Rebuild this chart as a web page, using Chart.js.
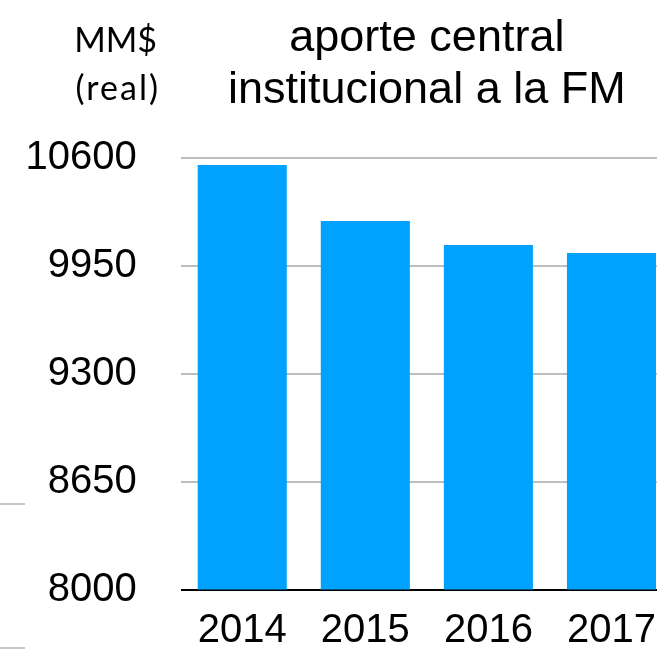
<!DOCTYPE html>
<html>
<head>
<meta charset="utf-8">
<script src="https://cdn.jsdelivr.net/npm/chart.js@4.4.1/dist/chart.umd.min.js"></script>
<style>
  html, body { margin: 0; padding: 0; background: #fff; overflow: hidden; width: 657px; height: 650px; }
  #wrap { position: absolute; left: 0; top: 0; width: 673px; height: 650px; }
  .mark { position: absolute; left: 0; width: 25px; height: 2px; background: #c4c4c4; }
</style>
</head>
<body>
<div id="wrap"><canvas id="c" width="673" height="650"></canvas></div>
<div class="mark" style="top:503px"></div>
<div class="mark" style="top:647px"></div>
<script>
const categories = ['2014', '2015', '2016', '2017'];
const values = [10555, 10218, 10073, 10025];
const yTicks = [8000, 8650, 9300, 9950, 10600];
const titleLines = ['aporte central', 'institucional a la FM'];
const unitLines = ['MM$', '(real)'];

const textPlugin = {
  id: 'texts',
  afterDraw(chart) {
    const ctx = chart.ctx;
    const area = chart.chartArea;
    ctx.save();
    ctx.fillStyle = '#000';
    ctx.textBaseline = 'alphabetic';
    ctx.textAlign = 'center';
    ctx.font = '45px "Liberation Sans", Arial, sans-serif';
    const cx = (area.left + area.right) / 2;
    ctx.fillText(titleLines[0], cx, 51);
    ctx.fillText(titleLines[1], cx, 103);
    ctx.textAlign = 'right';
    ctx.font = '34px Lato, "Open Sans", sans-serif';
    ctx.fillText(unitLines[0], 157, 52);
    if ('letterSpacing' in ctx) ctx.letterSpacing = '2px';
    ctx.fillText(unitLines[1], 160, 100);
    ctx.restore();
  }
};

new Chart(document.getElementById('c'), {
  type: 'bar',
  data: {
    labels: categories,
    datasets: [{
      data: values,
      backgroundColor: '#00a2ff',
      borderWidth: 0,
      barPercentage: 0.7236,
      categoryPercentage: 1.0
    }]
  },
  options: {
    responsive: false,
    animation: false,
    layout: { padding: { top: 157.5, left: 0, right: 0, bottom: 0 } },
    plugins: { legend: { display: false }, tooltip: { enabled: false }, title: { display: false } },
    scales: {
      x: {
        grid: { display: false, drawTicks: false },
        border: { display: false },
        ticks: {
          color: '#000',
          padding: 25,
          maxRotation: 0,
          font: { family: '"Liberation Sans", Arial, sans-serif', size: 40, lineHeight: 0.825 }
        },
        afterFit(scale) { scale.height = 60.5; scale.paddingLeft = 0; scale.paddingRight = 0; }
      },
      y: {
        min: 8000,
        max: 10600,
        afterBuildTicks(scale) { scale.ticks = yTicks.map(v => ({ value: v })); },
        grid: {
          drawTicks: false,
          lineWidth: 2,
          color: (ctx) => (ctx.tick && ctx.tick.value === 8000) ? '#000' : '#bdbdbd'
        },
        border: { display: false },
        ticks: {
          color: '#000',
          padding: 44,
          callback: (v) => String(v),
          font: { family: '"Liberation Sans", Arial, sans-serif', size: 40 }
        },
        afterFit(scale) { scale.width = 180.7; scale.paddingTop = 0; scale.paddingBottom = 0; }
      }
    }
  },
  plugins: [textPlugin]
});
</script>
</body>
</html>
